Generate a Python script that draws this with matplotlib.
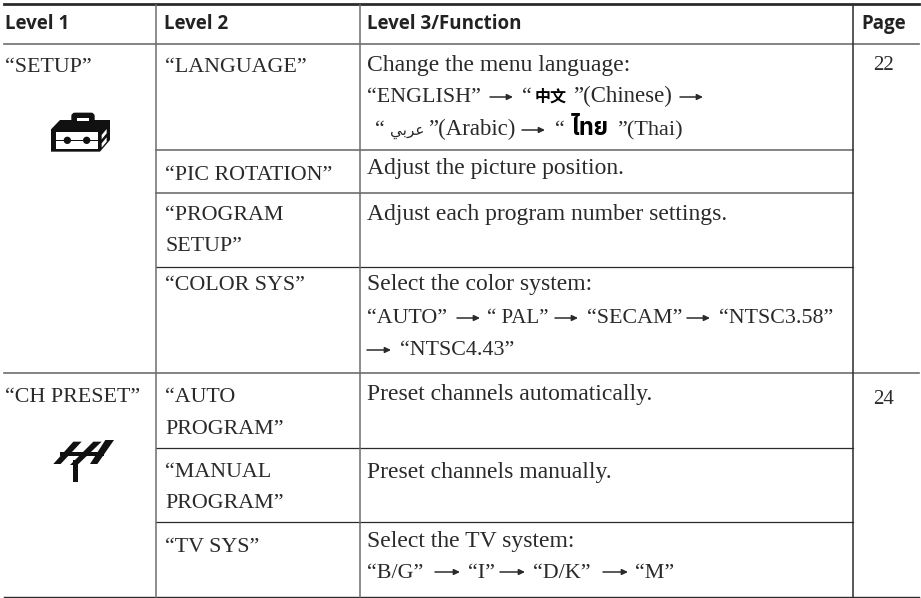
import matplotlib
matplotlib.use("Agg")
import matplotlib.pyplot as plt
from matplotlib.patches import Polygon, Rectangle, Circle, FancyBboxPatch

plt.rcParams['font.family'] = ['Liberation Serif', 'DejaVu Sans']

headers = ["Level 1", "Level 2", "Level 3/Function", "Page"]
level1 = ["\u201cSETUP\u201d", "\u201cCH PRESET\u201d"]
level2 = [["\u201cLANGUAGE\u201d"], ["\u201cPIC ROTATION\u201d"], ["\u201cPROGRAM", "SETUP\u201d"], ["\u201cCOLOR SYS\u201d"],
          ["\u201cAUTO", "PROGRAM\u201d"], ["\u201cMANUAL", "PROGRAM\u201d"], ["\u201cTV SYS\u201d"]]
level3_plain = ["Change the menu language:", "Adjust the picture position.", "Adjust each program number settings.",
                "Select the color system:", "Preset channels automatically.", "Preset channels manually.",
                "Select the TV system:"]
pages = ["22", "24"]

DARK = "#2b2b2b"
GRAY = "#6e6e6e"
TXT = "#2a2a2a"
FS = 17
MIX = 16.5
CAPS = 15.8

fig = plt.figure(figsize=(9.21, 5.98), dpi=100)
ax = fig.add_axes([0, 0, 1, 1])
ax.set_xlim(0, 921)
ax.set_ylim(598, 0)
ax.axis("off")

# rules
ax.plot([4, 919], [4, 4], color=DARK, lw=2)
ax.plot([4, 919], [44, 44], color=GRAY, lw=1.2)
ax.plot([4, 919], [373, 373], color=GRAY, lw=1.2)
ax.plot([4, 919], [597, 597], color=DARK, lw=1)
for y in [150, 193]:
    ax.plot([156, 853], [y, y], color=GRAY, lw=1.2)
for y in [267, 448, 522]:
    ax.plot([156, 853], [y, y], color=DARK, lw=0.9)
for x, c in [(156, GRAY), (360, GRAY), (853, DARK)]:
    ax.plot([x, x], [5, 597], color=c, lw=1.1)

# header
for x, h in zip([5, 164, 367, 861], headers):
    ax.text(x, 29, h, fontsize=13.5, fontweight="bold", family="Open Sans", color="#222222")

def t(x, y, s, size=CAPS, **kw):
    return ax.text(x, y, s, va="baseline", fontsize=size, color=TXT, **kw)

def arrow(x0, x1, y):
    ax.annotate("", xy=(x1, y), xytext=(x0, y),
                arrowprops=dict(arrowstyle="-|>,head_length=0.35,head_width=0.17", color=DARK, lw=1.1, shrinkA=0, shrinkB=0))

for y, s in zip([72, 402], level1):
    t(5, y, s)
col2_y = [[72], [180], [220, 251], [290], [402, 434], [477, 508], [552]]
for ys, lines in zip(col2_y, level2):
    for y, s in zip(ys, lines):
        t(165, y, s)
col3_y = [71, 174, 220, 290, 400, 478, 547]
for y, s in zip(col3_y, level3_plain):
    t(367, y, s, size=FS)
for y, s in zip([70, 404], pages):
    t(873, y, s, size=15)

# language line 2
t(367, 102, "\u201cENGLISH\u201d")
arrow(490, 513, 97)
t(522, 102, "\u201c")
ax.text(535, 102, "\u4e2d\u6587", fontsize=11.5, fontweight="bold", family="Noto Sans CJK SC", color="black")
t(573, 102, "\u201d(Chinese)", size=MIX)
arrow(680, 703, 97)
# language line 3
t(375, 135, "\u201c")
ax.text(390, 135, "\uFEF2\uFE91\uFEAE\uFECB", fontsize=11, family="DejaVu Sans", color=TXT)
t(428, 135, "\u201d(Arabic)", size=MIX)
arrow(522, 545, 130)
t(555, 135, "\u201c")
ax.text(572, 135, "\u0E44\u0E17\u0E22", fontsize=17, fontweight="bold",
        family=["IBM Plex Sans Thai", "FreeSerif", "DejaVu Sans"], color="black")
t(617, 135, "\u201d(Thai)", size=16)
# colour system
t(367, 323, "\u201cAUTO\u201d")
arrow(457, 480, 318)
t(487, 323, "\u201c PAL\u201d", size=15)
arrow(555, 578, 318)
t(587, 323, "\u201cSECAM\u201d")
arrow(687, 710, 318)
t(719, 323, "\u201cNTSC3.58\u201d")
arrow(367, 391, 350)
t(400, 355, "\u201cNTSC4.43\u201d")
# tv system
t(367, 578, "\u201cB/G\u201d")
arrow(435, 460, 572)
t(468, 578, "\u201cI\u201d")
arrow(500, 525, 572)
t(533, 578, "\u201cD/K\u201d")
arrow(603, 628, 572)
t(635, 578, "\u201cM\u201d")

def z(pts, ox, oy):
    return [(ox + a / 3, oy + b / 3) for a, b in pts]

ox, oy = 40, 100
ax.add_patch(Polygon(z([(33, 155), (33, 88), (60, 60), (210, 60), (210, 120), (180, 155)], ox, oy), color="#111111", lw=0))
ax.add_patch(FancyBboxPatch((ox + 96 / 3, oy + 40 / 3), 66 / 3, 28 / 3, boxstyle="round,pad=0,rounding_size=3", fc="#111111", ec="#111111", lw=1))
ax.add_patch(Rectangle((ox + 112 / 3, oy + 54 / 3), 34 / 3, 8 / 3, color="white", lw=0))
ax.add_patch(Rectangle((ox + 48 / 3, oy + 97 / 3), 125 / 3, 50 / 3, color="white", lw=0))
ax.add_patch(Rectangle((ox + 48 / 3, oy + 119 / 3), 125 / 3, 5 / 3, color="#111111", lw=0))
for cx in [82, 140]:
    ax.add_patch(Circle((ox + cx / 3, oy + 121 / 3), 11 / 3, color="#111111", lw=0))
for a, b in [(185, 105), (185, 130)]:
    ax.add_patch(Polygon(z([(a, b), (a + 15, b - 18), (a + 15, b - 5), (a, b + 13)], ox, oy), color="white", lw=0))

# antenna icon
ox, oy = 40, 430
for pts in [[(40, 102), (100, 35), (125, 35), (62, 102)],
            [(90, 105), (160, 35), (185, 35), (112, 105)],
            [(150, 102), (196, 30), (222, 30), (172, 102)],
            [(60, 66), (192, 66), (192, 78), (60, 78)],
            [(100, 90), (114, 90), (114, 155), (100, 155)]]:
    ax.add_patch(Polygon(z(pts, ox, oy), color="#111111", lw=0))

fig.savefig("out.png", dpi=100)
